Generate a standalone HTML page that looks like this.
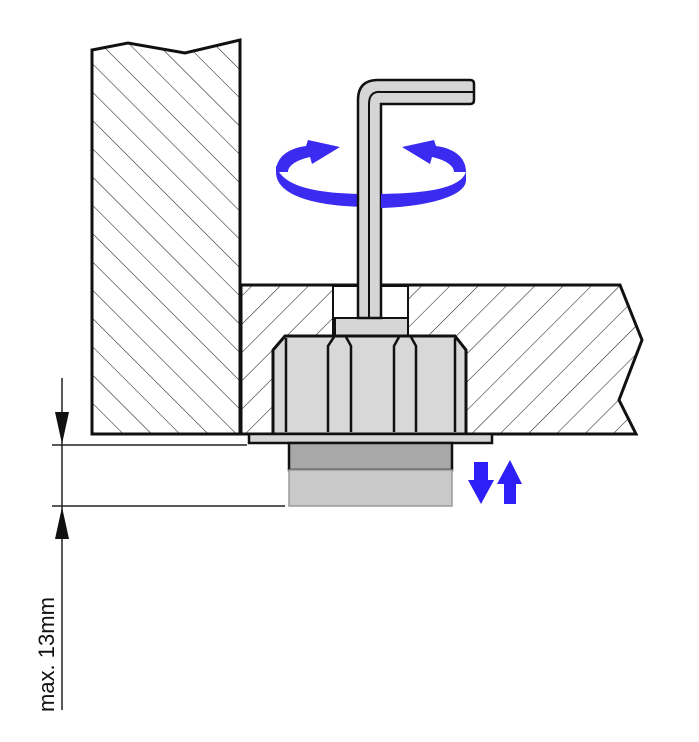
<!DOCTYPE html>
<html><head><style>html,body{margin:0;padding:0;background:#fff;width:699px;height:742px;overflow:hidden}</style></head>
<body>
<svg width="699" height="742" viewBox="0 0 699 742" xmlns="http://www.w3.org/2000/svg">
<defs>
<pattern id="hb" patternUnits="userSpaceOnUse" width="20" height="20" patternTransform="rotate(45)">
<line x1="0" y1="0" x2="0" y2="20" stroke="#222" stroke-width="1.1"/></pattern>
<pattern id="hf" patternUnits="userSpaceOnUse" width="20" height="20" patternTransform="rotate(-45)">
<line x1="0" y1="0" x2="0" y2="20" stroke="#222" stroke-width="1.1"/></pattern>
</defs>
<!-- wall -->
<polygon points="92,50 128,43 185,53 240,40 240,434 92,434" fill="url(#hf)" stroke="#111" stroke-width="3"/>
<!-- slab -->
<polygon points="241,285 620,285 642,340 619,400 636,434 241,434" fill="url(#hb)" stroke="#111" stroke-width="3"/>
<!-- hole -->
<rect x="333" y="286" width="75" height="50" fill="#fff" stroke="#111" stroke-width="2"/>
<!-- key plate -->
<rect x="335" y="318" width="73" height="18" fill="#d6d6d6" stroke="#111" stroke-width="2"/>
<!-- nut -->
<path d="M285,336 L455,336 L466,350 L466,434 L273,434 L273,350 Z" fill="#d8d8d8" stroke="#111" stroke-width="3"/>
<g stroke="#111" stroke-width="2.5" fill="none">
<line x1="286" y1="338" x2="286" y2="432"/>
<line x1="455" y1="338" x2="455" y2="432"/>
<path d="M328,432 L328,346 L334,337 M346,337 L351,346 L351,432"/>
<path d="M394,432 L394,346 L399,337 M411,337 L416,346 L416,432"/>
</g>
<!-- flange -->
<rect x="249" y="434" width="243" height="9" fill="#d6d6d6" stroke="#111" stroke-width="2.5"/>
<rect x="289" y="443" width="163" height="27" fill="#a8a8a8" stroke="#111" stroke-width="2.5"/>
<rect x="289" y="470" width="163" height="36" fill="#c9c9c9" stroke="#999" stroke-width="1.5"/>
<!-- blue ring back -->
<path d="M276,172 C276,200 330,207 370,207 C420,207 466,198 466,178 L466,172 C460,190 420,194 370,194 C320,194 282,188 276,165 Z" fill="#3b2bf0"/>
<!-- key -->
<path d="M358,318 L358,100 Q358,80 378,80 L470,80 Q474,80 474,84 L474,100 Q474,104 470,104 L381,104 L381,318 Z" fill="#d6d6d6" stroke="#111" stroke-width="2.5"/>
<path d="M369,318 L369,104 Q369,91 381,92 L474,92" fill="none" stroke="#111" stroke-width="2"/>
<!-- blue ring front right & arrows -->
<path d="M381,194 C420,194 460,190 466,172 L466,180 C466,198 420,207 381,208 Z" fill="#3b2bf0"/>
<path d="M276,172 C276,156 290,148 306,146 L308,140 L340,147 L312,164 L310,157 C296,160 288,166 288,172 Z" fill="#3b2bf0"/>
<path d="M466,172 C466,156 452,148 436,146 L434,140 L402,147 L430,164 L432,157 C446,160 454,166 454,172 Z" fill="#3b2bf0"/>
<!-- up/down arrows -->
<polygon points="474,462 488,462 488,480 494,480 481,504 468,480 474,480" fill="#2d1ff5"/>
<polygon points="504,504 516,504 516,484 522,484 510,460 497,484 504,484" fill="#2d1ff5"/>
<!-- dimension -->
<g stroke="#222" stroke-width="1.5">
<line x1="62" y1="378" x2="62" y2="710"/>
<line x1="52" y1="445" x2="247" y2="445"/>
<line x1="52" y1="506" x2="285" y2="506"/>
</g>
<polygon points="55,412 69,412 62,444" fill="#111"/>
<polygon points="55,539 69,539 62,507" fill="#111"/>
<text transform="translate(54,712) rotate(-90)" font-family="Liberation Sans, sans-serif" font-size="22" fill="#111">max. 13mm</text>
</svg>
</body></html>
